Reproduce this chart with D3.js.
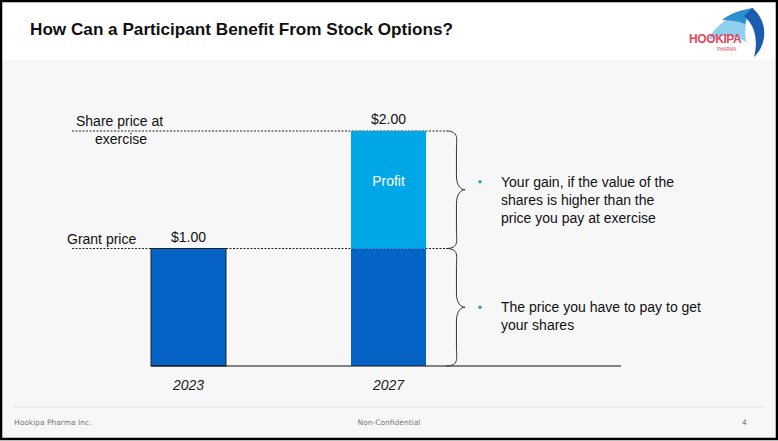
<!DOCTYPE html>
<html>
<head>
<meta charset="utf-8">
<script src="https://cdn.jsdelivr.net/npm/d3@7"></script>
<style>
  html, body { margin: 0; padding: 0; background: #fff; }
  svg { display: block; font-family: "Liberation Sans", Arial, sans-serif; }
</style>
</head>
<body>
<div id="chart"></div>
<script>
// chart data
const years = ['2023', '2027'];
const grantPrice = [1.00, 1.00];
const profit = [0, 1.00];
const priceLabels = ['$1.00', '$2.00'];
const levelNames = [['Grant price'], ['Share price at', 'exercise']];
const levelValues = [1.00, 2.00];
const bulletTexts = [
    ['Your gain, if the value of the', 'shares is higher than the', 'price you pay at exercise'],
    ['The price you have to pay to get', 'your shares']
];

const W = 778, H = 441;
const svg = d3.select('#chart').append('svg')
    .attr('width', W).attr('height', H);

// page background
svg.append('rect').attr('width', W).attr('height', H).attr('fill', '#f7f7f7');
svg.append('rect').attr('width', W).attr('height', 60).attr('fill', '#ffffff');

// title
svg.append('text')
    .attr('x', 30).attr('y', 35)
    .attr('font-size', 17).attr('font-weight', 'bold').attr('fill', '#111')
    .attr('textLength', 423).attr('lengthAdjust', 'spacingAndGlyphs')
    .text('How Can a Participant Benefit From Stock Options?');

// logo
const logo = svg.append('g');
logo.append('path')
    .attr('d', 'M708,40 C716,24 732,14 752,9 C746,18 744,28 746,42 C734,34 720,34 708,40 Z')
    .attr('fill', '#8fd0ee');
logo.append('path')
    .attr('d', 'M722,20 C732,12 744,9 754,8 C749,13 746,18 745,24 C738,21 730,20 722,20 Z')
    .attr('fill', '#2b8fd2');
logo.append('path')
    .attr('d', 'M752,8 C768,20 768,44 754,57 C758,42 756,26 744,16 Z')
    .attr('fill', '#1a5cae');
logo.append('text')
    .attr('x', 689).attr('y', 43)
    .attr('font-size', 12).attr('font-weight', 'bold').attr('fill', '#e2495e')
    .attr('letter-spacing', -0.4)
    .text('HOOKIPA');
logo.append('text')
    .attr('x', 717).attr('y', 51)
    .attr('font-size', 4.5).attr('fill', '#e2495e')
    .text('PHARMA');

// scales
const x = d3.scaleBand()
    .domain(years)
    .range([151, 426])
    .paddingInner(0.625)
    .paddingOuter(0);
const y = d3.scaleLinear()
    .domain([0, 2])
    .range([366, 131]);

// dashed reference lines
svg.selectAll('.level')
    .data(levelValues)
    .enter().append('line')
    .attr('x1', 72).attr('x2', 445)
    .attr('y1', d => y(d)).attr('y2', d => y(d))
    .attr('stroke', '#222').attr('stroke-width', 1)
    .attr('stroke-dasharray', '2,1.5');

// bars: grant price part
svg.selectAll('.bar-grant')
    .data(years)
    .enter().append('rect')
    .attr('x', d => x(d))
    .attr('y', (d, i) => y(grantPrice[i]))
    .attr('width', x.bandwidth())
    .attr('height', (d, i) => y(0) - y(grantPrice[i]))
    .attr('fill', '#0563c6')
    .attr('stroke', (d, i) => i === 0 ? '#222' : 'none')
    .attr('stroke-width', 1);

// bars: profit part
svg.selectAll('.bar-profit')
    .data(years)
    .enter().append('rect')
    .attr('x', d => x(d))
    .attr('y', (d, i) => y(grantPrice[i] + profit[i]))
    .attr('width', x.bandwidth())
    .attr('height', (d, i) => y(grantPrice[i]) - y(grantPrice[i] + profit[i]))
    .attr('fill', '#00a7e7');

svg.append('text')
    .attr('x', x('2027') + x.bandwidth() / 2)
    .attr('y', y(grantPrice[1] + profit[1] / 2) - 4)
    .attr('text-anchor', 'middle')
    .attr('font-size', 14).attr('fill', '#fff')
    .text('Profit');

// value labels
svg.selectAll('.val')
    .data(years)
    .enter().append('text')
    .attr('x', d => x(d) + x.bandwidth() / 2)
    .attr('y', (d, i) => y(grantPrice[i] + profit[i]) - 7)
    .attr('text-anchor', 'middle')
    .attr('font-size', 14).attr('fill', '#111')
    .text((d, i) => priceLabels[i]);

// baseline
svg.append('line')
    .attr('x1', 151).attr('x2', 621)
    .attr('y1', y(0)).attr('y2', y(0))
    .attr('stroke', '#111').attr('stroke-width', 1.2);

// year labels
svg.selectAll('.year')
    .data(years)
    .enter().append('text')
    .attr('x', d => x(d) + x.bandwidth() / 2)
    .attr('y', 390)
    .attr('text-anchor', 'middle')
    .attr('font-size', 14).attr('font-style', 'italic').attr('fill', '#222')
    .text(d => d);

// level names
const nameX = [67, 76];
levelNames.forEach((lines, i) => {
    lines.forEach((t, j) => {
        svg.append('text')
            .attr('x', nameX[i] + (j > 0 ? 19 : 0))
            .attr('y', y(levelValues[i]) - 5 + j * 18)
            .attr('font-size', 14).attr('fill', '#111')
            .text(t);
    });
});

// braces
function bracePath(x0, y0, y1, w) {
    const m = (y0 + y1) / 2;
    const c = x0 + w * 0.55;
    return `M${x0},${y0} C${c + 3},${y0} ${c},${y0 + 8} ${c},${y0 + 18}` +
        ` L${c},${m - 14} C${c},${m - 4} ${x0 + w - 4},${m} ${x0 + w},${m}` +
        ` C${x0 + w - 4},${m} ${c},${m + 4} ${c},${m + 14}` +
        ` L${c},${y1 - 18} C${c},${y1 - 8} ${c + 3},${y1} ${x0},${y1}`;
}
const spans = [[levelValues[1], levelValues[0]], [levelValues[0], 0]];
svg.selectAll('.brace')
    .data(spans)
    .enter().append('path')
    .attr('d', d => bracePath(446, y(d[0]), y(d[1]), 19))
    .attr('fill', 'none').attr('stroke', '#333').attr('stroke-width', 1);

// bullets
bulletTexts.forEach((lines, i) => {
    const cy = (y(spans[i][0]) + y(spans[i][1])) / 2 - (i === 0 ? 8 : 0);
    svg.append('circle')
        .attr('cx', 480).attr('cy', cy).attr('r', 1.8)
        .attr('fill', '#3a9cc8');
    lines.forEach((t, j) => {
        svg.append('text')
            .attr('x', 501).attr('y', cy + 5 + j * 18)
            .attr('font-size', 14).attr('fill', '#111')
            .text(t);
    });
});

// footer
svg.append('line')
    .attr('x1', 14).attr('x2', 765)
    .attr('y1', 407).attr('y2', 407)
    .attr('stroke', '#e2e2e2').attr('stroke-width', 1);
const footer = svg.append('g')
    .attr('font-family', '"DejaVu Sans", Verdana, sans-serif')
    .attr('font-size', 7.5).attr('fill', '#777');
footer.append('text').attr('x', 14).attr('y', 425).text('Hookipa Pharma Inc.');
footer.append('text').attr('x', 389).attr('y', 425).attr('text-anchor', 'middle').text('Non-Confidential');
footer.append('text').attr('x', 742).attr('y', 425).text('4');

// outer frame
svg.append('rect')
    .attr('x', 1).attr('y', 1).attr('width', W - 2).attr('height', H - 3)
    .attr('fill', 'none').attr('stroke', '#000').attr('stroke-width', 2.5);
</script>
</body>
</html>
